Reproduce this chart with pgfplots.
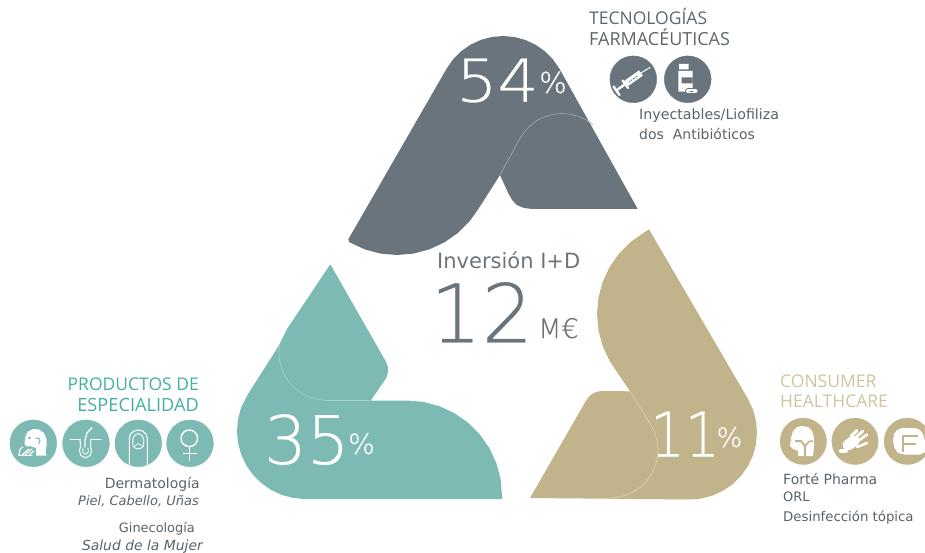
\documentclass[border=0pt]{standalone}
\usepackage{fontspec}
\usepackage{graphicx}
\usepackage{pgfplots}
\pgfplotsset{compat=1.18}
\setmainfont{DejaVu Sans}
\IfFontExistsTF{DejaVu Sans ExtraLight}
  {\newfontfamily\thinfont[FakeBold=0.4]{DejaVu Sans ExtraLight}}
  {\IfFontExistsTF{Open Sans Light}
    {\newfontfamily\thinfont[FakeBold=0.4]{Open Sans Light}}
    {\IfFontExistsTF{Lato Light}
      {\newfontfamily\thinfont[FakeBold=0.4]{Lato Light}}
      {\newfontfamily\thinfont{Open Sans}}}}
\newfontfamily\headfont{Open Sans}
\definecolor{slate}{HTML}{6A747C}
\definecolor{teal1}{HTML}{7DBAB4}
\definecolor{tan1}{HTML}{C2B48A}
\definecolor{slateline}{HTML}{A4ABB0}
\definecolor{tealline}{HTML}{A6D0CB}
\definecolor{tanline}{HTML}{DCD2B6}
\definecolor{headteal}{HTML}{45AFA2}
\definecolor{headtan}{HTML}{CFC3A0}
\definecolor{headslate}{HTML}{5B666E}
\definecolor{bodytext}{HTML}{59636A}
\begin{document}
\begin{tikzpicture}
\useasboundingbox (0,0) rectangle (925pt,553pt);
\begin{axis}[
  at={(0,0)}, anchor=south west,
  scale only axis, width=925pt, height=553pt,
  xmin=0, xmax=925, ymin=0, ymax=553, y dir=reverse,
  axis lines=none, clip marker paths=true,
  every axis plot/.append style={line join=round, line cap=round},
]
% slate segment
\addplot[fill=slate, draw=none] coordinates {
 (348.3,239.3) (446.7,68.5) (453.2,59.2) (461.2,51.2) (470.5,44.7) (480.8,39.9)
 (491.7,37) (503,36) (514.3,37) (525.2,39.9) (535.5,44.7) (544.8,51.2) (552.8,59.2)
 (559.3,68.5) (637.7,209) (531.7,209) (523.5,207.8) (516.7,205) (512,199.8)
 (508.3,193.3) (505,186) (500,175) (479.3,207.5) (469.8,221.1) (458.1,232.8)
 (444.5,242.3) (429.5,249.3) (413.5,253.6) (397,255) (380.5,253.6) (364.5,249.3)
 (349.5,242.3) (348.3,239.3)};
\addplot[draw=slateline, line width=0.6pt] coordinates {
 (500,175) (520.4,137.5) (525.2,130.6) (531.1,124.7) (538,119.9) (545.6,116.4)
 (553.7,114.2) (562,113.5) (570.3,114.2) (578.4,116.4) (586,119.9) (592.9,124.7)};
% teal segment
\addplot[fill=teal1, draw=none] coordinates {
 (330.3,264.3) (385.6,361) (387.7,366) (388,370) (387.7,373.1) (386.9,376.2)
 (385.6,379) (383.8,381.6) (370.7,400.5) (407,400.5) (423.5,401.9) (439.5,406.2)
 (454.5,413.2) (468.1,422.7) (479.8,434.4) (489.3,448) (496.3,463) (500.6,479)
 (502,495.5) (502,499) (305,499) (293.2,498) (281.7,494.9) (271,489.9) (261.3,483.1)
 (252.9,474.7) (246.1,465) (241.1,454.3) (238,442.8) (237,431) (238,419.2)
 (241.1,407.7) (248,394) (278,347) (287,329) (330.3,264.3)};
\addplot[draw=tealline, line width=0.6pt] coordinates {
 (279.7,344.2) (279,352.5) (279.7,360.8) (281.9,368.9)
 (285.4,376.5) (290.2,383.4) (296.1,389.3) (303,394.1) (310.6,397.6) (318.7,399.8)
 (327,400.5) (370,400.5)};
% tan segment
\addplot[fill=tan1, draw=none] coordinates {
 (649,229.3) (748,399) (753,409.6) (756,420.9) (757,432.5) (756,444.1) (753,455.4)
 (748,466) (741.3,475.6) (733.1,483.8) (723.5,490.5) (712.9,495.5) (701.6,498.5)
 (690,499.5) (530,498) (586.4,400) (589.3,396.3) (593,393.4) (597.3,391.6) (602,391)
 (630,391.3) (609.6,361) (602.7,346.1) (598.4,330.3) (597,314) (598.4,297.7)
 (602.7,281.9) (609.6,267) (619,253.6) (630.6,242) (644,232.6) (649,229.3)};
\addplot[draw=tanline, line width=0.6pt] coordinates {
 (630,391.3) (651.6,426) (655.1,433.6) (657.3,441.7) (658,450) (657.3,458.3)
 (655.1,466.4) (651.6,474) (646.8,480.9) (640.9,486.8) (634,491.6) (626.4,495.1)
 (618.3,497.3) (610,498)};

% icon discs
\addplot[only marks, mark=*, mark size=23.4pt, color=slate] coordinates {(633.3,79.3) (687.7,79.3)};
\addplot[only marks, mark=*, mark size=23.4pt, color=teal1] coordinates {(33.3,443.3) (86,443.3) (138.3,443.3) (190,443.3)};
\addplot[only marks, mark=*, mark size=23.2pt, color=tan1] coordinates {(803.3,441.3) (855,441.3) (907.3,441.3)};

% syringe
\addplot[white, line width=1pt] coordinates {(650,67.5) (640,73.5)};
\addplot[white, line width=6.5pt, line cap=butt] coordinates {(641,73) (626,83.5)};
\addplot[slate, line width=0.9pt, dash pattern=on 1.5pt off 1.5pt] coordinates {(637,76.3) (629,82)};
\addplot[white, line width=2.4pt, line cap=butt] coordinates {(626,83.5) (617,90)};
\addplot[white, line width=2.2pt] coordinates {(622.5,80.5) (628,88)};
\addplot[white, line width=2.4pt] coordinates {(613.5,86.5) (619.5,95)};
% bottle
\addplot[fill=white, draw=none] coordinates {(679,64) (688.5,64) (688.5,69.5) (679,69.5) (679,64)};
\addplot[fill=white, draw=none] coordinates {(678.3,71) (692.7,71) (692.7,91.7) (678.3,91.7) (678.3,71)};
\addplot[fill=slate, draw=none] coordinates {(681.7,77.3) (692.7,77.3) (692.7,83.3) (681.7,83.3) (681.7,77.3)};
\addplot[slate, line width=6pt] coordinates {(688,91) (696,91)};
\addplot[white, line width=4pt] coordinates {(688,91) (695.5,91)};
\addplot[slate, line width=0.8pt] coordinates {(690,91) (693,91)};

% head with hand
\addplot[fill=white, draw=none] coordinates {
 (24.5,444) (25.5,436) (28,431.5) (33,429) (39,429.5) (44,433) (46.5,439) (46.5,446) (45.5,452) (46.5,455.5)
 (36,455.5) (36,448) (30,446) (27,446.5) (24.5,444)};
\addplot[teal1, line width=1.1pt] coordinates {(36,438) (39,438.5) (40,441) (38.5,444)};
\addplot[only marks, mark=*, mark size=1.2pt, color=teal1] coordinates {(29.5,438)};
\addplot[white, line width=1.2pt] coordinates {(19,455) (20,449) (23,447)};
\addplot[white, line width=1.2pt] coordinates {(22,455) (29,449)};
\addplot[white, line width=1.2pt] coordinates {(25,455) (32,449)};
\addplot[white, line width=1.2pt] coordinates {(29,455) (34,451)};
\addplot[white, line width=1.2pt] coordinates {(19,455.5) (32,455.5)};
% hair follicle
\addplot[white, line width=1pt] coordinates {(70,439) (80,439)};
\addplot[white, line width=1pt] coordinates {(91,439) (101,439)};
\addplot[white, line width=1pt] coordinates {(80,439) (80.5,446) (79.5,451) (81,455.5) (85.5,458) (90,455.5) (91.5,451) (90.5,446) (91,439)};
\addplot[white, line width=0.8pt] coordinates {(83,448) (82.7,452) (85.5,454.5) (88.3,452) (88,448)};
\addplot[white, line width=1.3pt] coordinates {(85,447) (85,440) (87,433) (92,427.7)};
% fingernail
\addplot[white, line width=1.1pt] coordinates {(129.3,465.5) (129.3,438) (130.5,434) (134,431) (138.3,430) (142.6,431) (146,434) (147.3,438) (147.3,465.5)};
\addplot[white, line width=0.9pt] coordinates {(133,446) (132.8,439) (134.5,435.5) (138.3,433.5) (142,435.5) (143.8,439) (143.6,446) (141,448.2) (138.3,448.8) (135.5,448.2) (133,446)};
\addplot[white, line width=0.7pt] coordinates {(134.5,446) (138.3,443.5) (142,446)};
% female sign
\addplot[only marks, mark=o, mark size=8.3pt, mark options={line width=1.4pt, draw=white}] coordinates {(189.3,438.3)};
\addplot[white, line width=1.4pt, line cap=butt] coordinates {(189.3,447) (189.3,460.5)};
\addplot[white, line width=1.4pt, line cap=butt] coordinates {(182.7,453.7) (196.7,453.7)};

% head with throat
\addplot[fill=white, draw=none] coordinates {
 (790,446) (791,438) (793,431) (797,427) (802,426) (808,427) (812,431) (814,438) (814,446)
 (813,456) (798,456) (798,451) (793,449) (790,446)};
\addplot[tan1, line width=2pt, line cap=butt] coordinates {(805,457) (805,446) (801,441) (795,441)};
\addplot[tan1, line width=1.6pt, line cap=butt] coordinates {(805,446) (809,441.5) (813,441)};
% hand
\addplot[white, line width=11pt] coordinates {(848,445) (854,441)};
\addplot[white, line width=3pt] coordinates {(851,436) (857,430.5)};
\addplot[white, line width=2.8pt] coordinates {(855,438) (863,431)};
\addplot[white, line width=2.6pt] coordinates {(858,441) (867,434.5)};
\addplot[white, line width=2.6pt] coordinates {(857,447) (867,443)};
\addplot[white, line width=4pt] coordinates {(841,451) (846,451)};
% F badge
\addplot[fill=white, draw=none] coordinates {
 (893,441) (894,434) (897,430) (902,428) (915,428) (920,430) (923,434) (925,441) (925,452)
 (920,454.5) (905,454.5) (898,453) (894.5,448) (893,441)};
\addplot[tan1, line width=2pt, line cap=butt] coordinates {(903,452) (903,436) (918,436)};
\addplot[tan1, line width=2pt, line cap=butt] coordinates {(903,444) (916,444)};

% texts
\node[anchor=base west, text=white, inner sep=0pt] at (axis cs:456,101.7) {\scalebox{1.1}[1]{\thinfont\fontsize{59}{59}\selectfont 54}};
\node[anchor=base west, text=white, inner sep=0pt] at (axis cs:539,93) {\thinfont\fontsize{29}{29}\selectfont\%};
\node[anchor=base west, text=white, inner sep=0pt] at (axis cs:264,464) {\thinfont\fontsize{67}{67}\selectfont 35};
\node[anchor=base west, text=white, inner sep=0pt] at (axis cs:348,454) {\thinfont\fontsize{28}{28}\selectfont\%};
\node[anchor=base west, text=white, inner sep=0pt] at (axis cs:650,456.7) {\scalebox{0.88}[1]{\thinfont\fontsize{62}{62}\selectfont 11}\hspace{-3pt}\raisebox{9.7pt}{\thinfont\fontsize{27}{27}\selectfont\%}};
\node[anchor=base west, text=slate, inner sep=0pt] at (axis cs:437,268) {\fontsize{21}{21}\selectfont Inversión I+D};
\node[anchor=base west, text=slate, inner sep=0pt] at (axis cs:430,342.3) {\thinfont\fontsize{81}{81}\selectfont 12};
\node[anchor=base west, text=slate, inner sep=0pt] at (axis cs:538,338) {\thinfont\fontsize{27}{27}\selectfont M€};

\node[anchor=base west, text=headslate, inner sep=0pt] at (axis cs:589,25) {\headfont\fontsize{17.5}{18}\selectfont TECNOLOGÍAS};
\node[anchor=base west, text=headslate, inner sep=0pt] at (axis cs:589,46) {\headfont\fontsize{18}{18}\selectfont FARMACÉUTICAS};
\node[anchor=base west, text=bodytext, inner sep=0pt] at (axis cs:639,120) {\fontsize{14.2}{15}\selectfont Inyectables/Liofiliza};
\node[anchor=base west, text=bodytext, inner sep=0pt] at (axis cs:639,140) {\fontsize{14}{15}\selectfont dos\ \ Antibióticos};

\node[anchor=base east, text=headteal, inner sep=0pt] at (axis cs:199,390) {\headfont\fontsize{17.5}{18}\selectfont PRODUCTOS DE};
\node[anchor=base east, text=headteal, inner sep=0pt] at (axis cs:199,411) {\headfont\fontsize{18.2}{18}\selectfont ESPECIALIDAD};
\node[anchor=base east, text=bodytext, inner sep=0pt] at (axis cs:200,488.3) {\fontsize{14}{15}\selectfont Dermatología};
\node[anchor=base east, text=bodytext, inner sep=0pt] at (axis cs:199,505.7) {\fontsize{13}{14}\selectfont\itshape Piel, Cabello, Uñas};
\node[anchor=base east, text=bodytext, inner sep=0pt] at (axis cs:195,532.7) {\fontsize{12.9}{14}\selectfont Ginecología};
\node[anchor=base east, text=bodytext, inner sep=0pt] at (axis cs:203,550) {\fontsize{13.9}{15}\selectfont\itshape Salud de la Mujer};

\node[anchor=base west, text=headtan, inner sep=0pt] at (axis cs:780,387.7) {\headfont\fontsize{17.5}{18}\selectfont CONSUMER};
\node[anchor=base west, text=headtan, inner sep=0pt] at (axis cs:780,407.7) {\headfont\fontsize{17.5}{18}\selectfont HEALTHCARE};
\node[anchor=base west, text=bodytext, inner sep=0pt] at (axis cs:783,484) {\fontsize{14}{15}\selectfont Forté Pharma};
\node[anchor=base west, text=bodytext, inner sep=0pt] at (axis cs:783,501) {\fontsize{13}{14}\selectfont ORL};
\node[anchor=base west, text=bodytext, inner sep=0pt] at (axis cs:783,521.7) {\fontsize{13.3}{14}\selectfont Desinfección tópica};
\end{axis}
\end{tikzpicture}
\end{document}
